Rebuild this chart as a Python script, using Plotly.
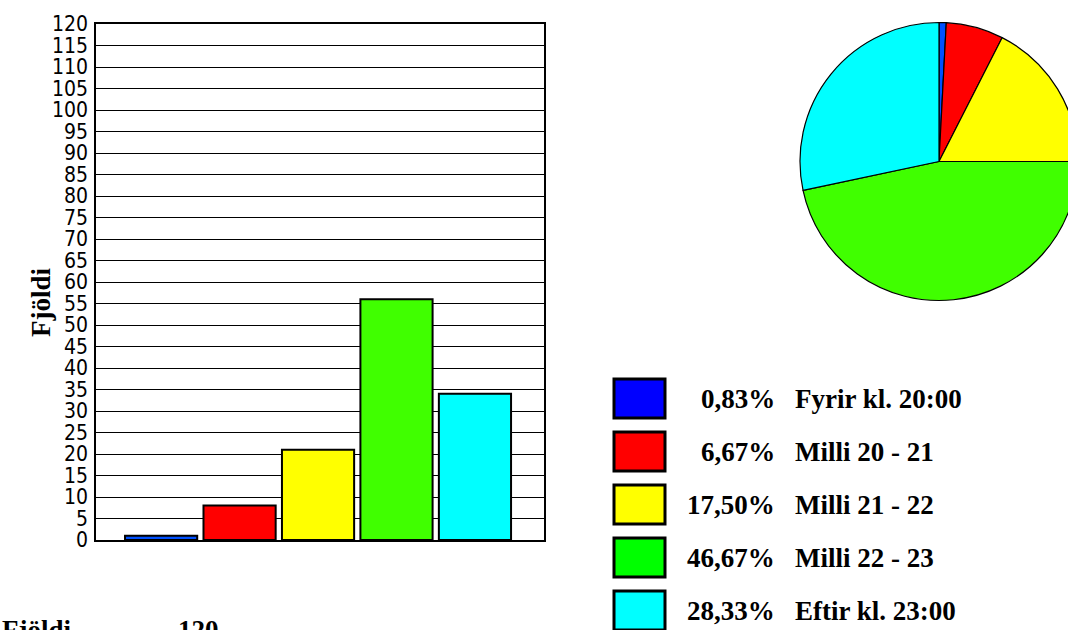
import plotly.graph_objects as go

categories = ["Fyrir kl. 20:00", "Milli 20 - 21", "Milli 21 - 22", "Milli 22 - 23", "Eftir kl. 23:00"]
counts = [1, 8, 21, 56, 34]
percent_labels = ["0,83%", "6,67%", "17,50%", "46,67%", "28,33%"]
bar_colors = ["#0050ff", "#ff0000", "#ffff00", "#40ff00", "#00ffff"]
legend_colors = ["#0000ff", "#ff0000", "#ffff00", "#00ff00", "#00ffff"]
total = 120
y_ticks = list(range(0, 121, 5))

W, H = 1078, 630

def px(x):
    return x / W

def py(y):
    return 1 - y / H

fig = go.Figure()

fig.add_trace(go.Bar(
    x=categories, y=counts,
    marker=dict(color=bar_colors, line=dict(color="black", width=2)),
    width=0.92, showlegend=False, hoverinfo="x+y",
    xaxis="x", yaxis="y",
))

fig.add_trace(go.Pie(
    labels=categories, values=counts, sort=False, direction="clockwise", rotation=0,
    marker=dict(colors=bar_colors, line=dict(color="black", width=1.2)),
    textinfo="none", showlegend=False,
    domain=dict(x=[px(800), px(1078)], y=[py(301), py(22)]),
))

serif = "Liberation Serif, Times New Roman, serif"

fig.update_layout(
    width=W, height=H,
    margin=dict(l=0, r=0, t=0, b=0, autoexpand=False),
    paper_bgcolor="white", plot_bgcolor="white",
    showlegend=False,
    xaxis=dict(domain=[px(96), px(544)], range=[-0.83, 4.88], showticklabels=False,
               showgrid=False, showline=True, linecolor="black", linewidth=1.5,
               mirror=True, zeroline=False, fixedrange=True, automargin=False),
    yaxis=dict(domain=[py(540), py(24)], range=[0, 120], tickvals=y_ticks,
               showgrid=True, gridcolor="black", gridwidth=1,
               showline=True, linecolor="black", linewidth=1.5, mirror=True,
               zeroline=False, ticks="", ticklabelstandoff=2, automargin=False,
               tickfont=dict(family="Liberation Sans Narrow, DejaVu Sans Condensed, sans-serif",
                             size=21, color="black"),
               fixedrange=True),
)

annotations = [
    dict(text="<b>Fjöldi</b>", x=px(24), y=py(302), xref="paper", yref="paper",
         textangle=-90, showarrow=False, font=dict(family=serif, size=27, color="black")),
    dict(text="<b>Fjöldi</b>", x=px(0), y=py(630), xref="paper", yref="paper",
         xanchor="left", yanchor="middle", showarrow=False,
         font=dict(family=serif, size=27, color="black")),
    dict(text="<b>%d</b>" % total, x=px(221), y=py(630), xref="paper", yref="paper",
         xanchor="right", yanchor="middle", showarrow=False,
         font=dict(family=serif, size=27, color="black")),
]

shapes = []
row_top = 379
row_step = 53
for i, (pct, lab, col) in enumerate(zip(percent_labels, categories, legend_colors)):
    top = row_top + i * row_step
    shapes.append(dict(type="rect", xref="paper", yref="paper",
                       x0=px(614), x1=px(665), y0=py(top + 39), y1=py(top),
                       fillcolor=col, line=dict(color="black", width=3)))
    cy = top + 20
    annotations.append(dict(text="<b>%s</b>" % pct, x=px(777), y=py(cy), xref="paper", yref="paper",
                            xanchor="right", yanchor="middle", showarrow=False,
                            font=dict(family=serif, size=27, color="black")))
    annotations.append(dict(text="<b>%s</b>" % lab, x=px(793), y=py(cy), xref="paper", yref="paper",
                            xanchor="left", yanchor="middle", showarrow=False,
                            font=dict(family=serif, size=27, color="black")))

fig.update_layout(annotations=annotations, shapes=shapes)

fig.write_html("out.html", config={"displayModeBar": False},
               post_script="document.body.style.margin='0';document.body.style.overflow='hidden';")
